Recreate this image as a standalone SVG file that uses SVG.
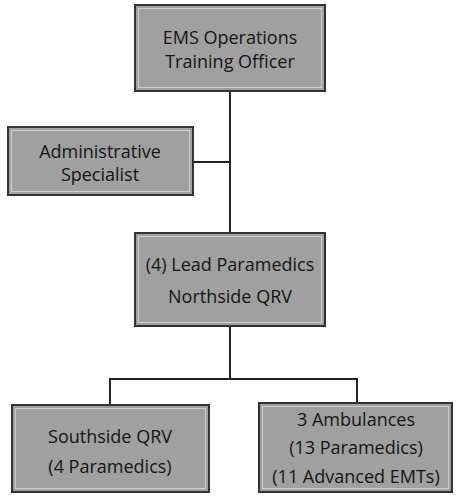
<svg xmlns="http://www.w3.org/2000/svg" width="456" height="496" viewBox="0 0 456 496">
  <style>
    .box { fill: #a0a0a0; stroke: #333; stroke-width: 2; }
    .inner { fill: none; stroke: #cfcfcf; stroke-width: 1; }
    .lbl { font-family: "Open Sans", "Noto Sans", "Liberation Sans", sans-serif; font-size: 18px; fill: #151515; text-anchor: middle; }
    .wire { fill: none; stroke: #222; stroke-width: 2; }
  </style>
  <rect width="456" height="496" fill="#fff"/>

  <g id="connectors">
    <path class="wire" d="M230 91 V233"/>
    <path class="wire" d="M193 162 H230"/>
    <path class="wire" d="M230 326 V379"/>
    <path class="wire" d="M110 405 V379 H357 V403"/>
  </g>

  <g id="ems-officer">
    <rect class="box" x="135" y="5" width="190" height="86"/>
    <rect class="inner" x="138.5" y="8.5" width="183" height="79"/>
    <text class="lbl" x="230" y="44">EMS Operations</text>
    <text class="lbl" x="230" y="68">Training Officer</text>
  </g>

  <g id="admin-specialist">
    <rect class="box" x="8" y="127" width="185" height="68"/>
    <rect class="inner" x="11.5" y="130.5" width="178" height="61"/>
    <text class="lbl" x="100" y="158">Administrative</text>
    <text class="lbl" x="100" y="181">Specialist</text>
  </g>

  <g id="lead-paramedics">
    <rect class="box" x="135" y="233" width="190" height="93"/>
    <rect class="inner" x="138.5" y="236.5" width="183" height="86"/>
    <text class="lbl" x="230" y="271">(4) Lead Paramedics</text>
    <text class="lbl" x="230" y="303">Northside QRV</text>
  </g>

  <g id="southside-qrv">
    <rect class="box" x="12" y="405" width="197" height="87"/>
    <rect class="inner" x="15.5" y="408.5" width="190" height="80"/>
    <text class="lbl" x="110" y="443">Southside QRV</text>
    <text class="lbl" x="110" y="473">(4 Paramedics)</text>
  </g>

  <g id="ambulances">
    <rect class="box" x="259" y="403" width="193" height="89"/>
    <rect class="inner" x="262.5" y="406.5" width="186" height="82"/>
    <text class="lbl" x="356" y="426">3 Ambulances</text>
    <text class="lbl" x="356" y="454">(13 Paramedics)</text>
    <text class="lbl" x="356" y="483">(11 Advanced EMTs)</text>
  </g>
</svg>
